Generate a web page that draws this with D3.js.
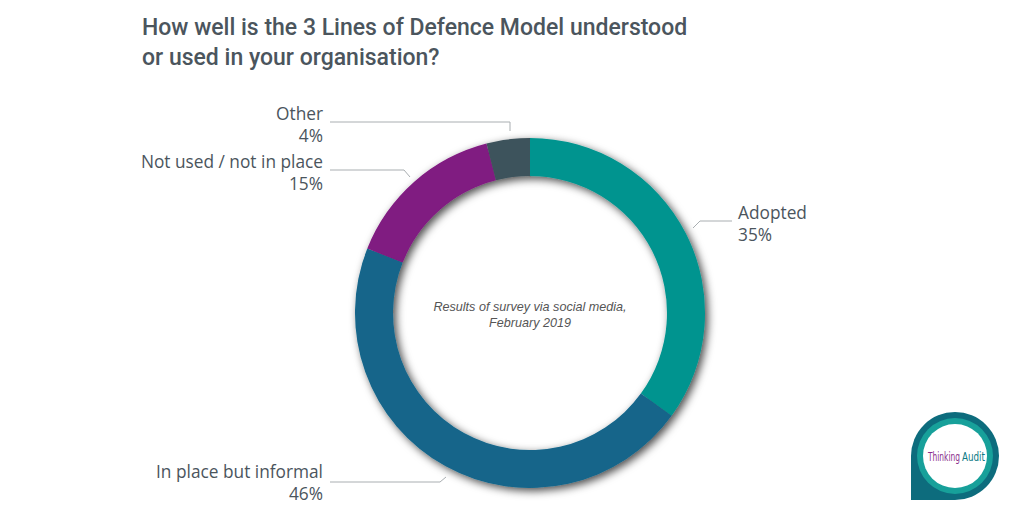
<!DOCTYPE html>
<html><head><meta charset="utf-8">
<script src="https://cdn.jsdelivr.net/npm/d3@7"></script>
<style>body{margin:0;background:#fff}svg{display:block}</style>
</head><body>
<svg id="c" width="1024" height="512"></svg>
<script>
const categories = ["Adopted", "In place but informal", "Not used / not in place", "Other"];
const values = [35, 46, 15, 4];
const colors = ["#01948f", "#13658a", "#801a81", "#3e525b"];
const titleLines = ["How well is the 3 Lines of Defence Model understood", "or used in your organisation?"];
const note = ["Results of survey via social media,", "February 2019"];

const svg = d3.select("#c");
const defs = svg.append("defs");
const f = defs.append("filter").attr("id","sh").attr("x","-20%").attr("y","-20%").attr("width","140%").attr("height","140%");
f.append("feDropShadow").attr("dx",3).attr("dy",3).attr("stdDeviation",4).attr("flood-color","#000").attr("flood-opacity",0.7);

const txt = "#4b555d";
svg.append("g").selectAll("text").data(titleLines).join("text")
  .attr("x",142).attr("y",(d,i)=>35+i*30)
  .attr("font-family","Roboto, 'Liberation Sans', sans-serif").attr("font-weight",500)
  .attr("font-size",23).attr("fill",txt).text(d=>d);

const cx=530, cy=313, R=175, r=137;
const pie = d3.pie().sort(null).value(d=>d)(values);
const arc = d3.arc().innerRadius(r).outerRadius(R);
const g = svg.append("g").attr("transform",`translate(${cx},${cy})`);
g.append("g").attr("filter","url(#sh)").selectAll("path").data(pie).join("path")
  .attr("d",arc).attr("fill",(d,i)=>colors[i]);

// center note
svg.append("g").selectAll("text").data(note).join("text")
  .attr("x",cx).attr("y",(d,i)=>311+i*16).attr("text-anchor","middle")
  .attr("font-family","'Liberation Sans', Arial, sans-serif").attr("font-style","italic")
  .attr("font-size",12.6).attr("fill","#555").text(d=>d);

// labels
const labelCfg = [
  {anchor:"start", x:738, y:219, line:[[732,221],[700,221],[693,228]]},
  {anchor:"end", x:323, y:478, line:[[330,482],[440,482],[446,477]]},
  {anchor:"end", x:323, y:168, line:[[330,170],[404,170],[410,177]]},
  {anchor:"end", x:323, y:120, line:[[330,122],[510,122],[510,131]]}
];
const lg = svg.append("g");
categories.forEach((c,i)=>{
  const L = labelCfg[i];
  lg.append("path").attr("d",d3.line()(L.line)).attr("fill","none").attr("stroke","#a9aeb1").attr("stroke-width",1);
  const t = lg.append("text").attr("text-anchor",L.anchor)
    .attr("font-family","'Open Sans', 'Liberation Sans', Arial, sans-serif").attr("font-size",17.3).attr("fill",txt);
  t.append("tspan").attr("x",L.x).attr("y",L.y).text(c);
  t.append("tspan").attr("x",L.x).attr("y",L.y+22).text(values[i]+"%");
});

// logo
const lx=955, ly=456, lr=44;
const logo = svg.append("g");
logo.append("path").attr("d",`M${lx-lr},${ly} A${lr},${lr} 0 1 1 ${lx},${ly+lr} L${lx-lr},${ly+lr} Z`).attr("fill","#0d6c7d");
logo.append("circle").attr("cx",lx).attr("cy",ly).attr("r",38).attr("fill","#17a09a");
logo.append("circle").attr("cx",lx).attr("cy",ly).attr("r",32).attr("fill","#fff");
const lf = "'Liberation Sans Narrow','DejaVu Sans Condensed',sans-serif";
function fitText(str, x, w, color){
  const t = logo.append("text").attr("x",0).attr("y",0).attr("font-family",lf).attr("font-size",13)
    .attr("fill",color).text(str);
  const nat = t.node().getComputedTextLength();
  t.attr("transform",`translate(${x},${ly+5}) scale(${w/nat},1)`);
}
fitText("Thinking", 928, 32, "#8a2e8c");
fitText("Audit", 962, 23, "#0d7a85");
</script>
</body></html>
